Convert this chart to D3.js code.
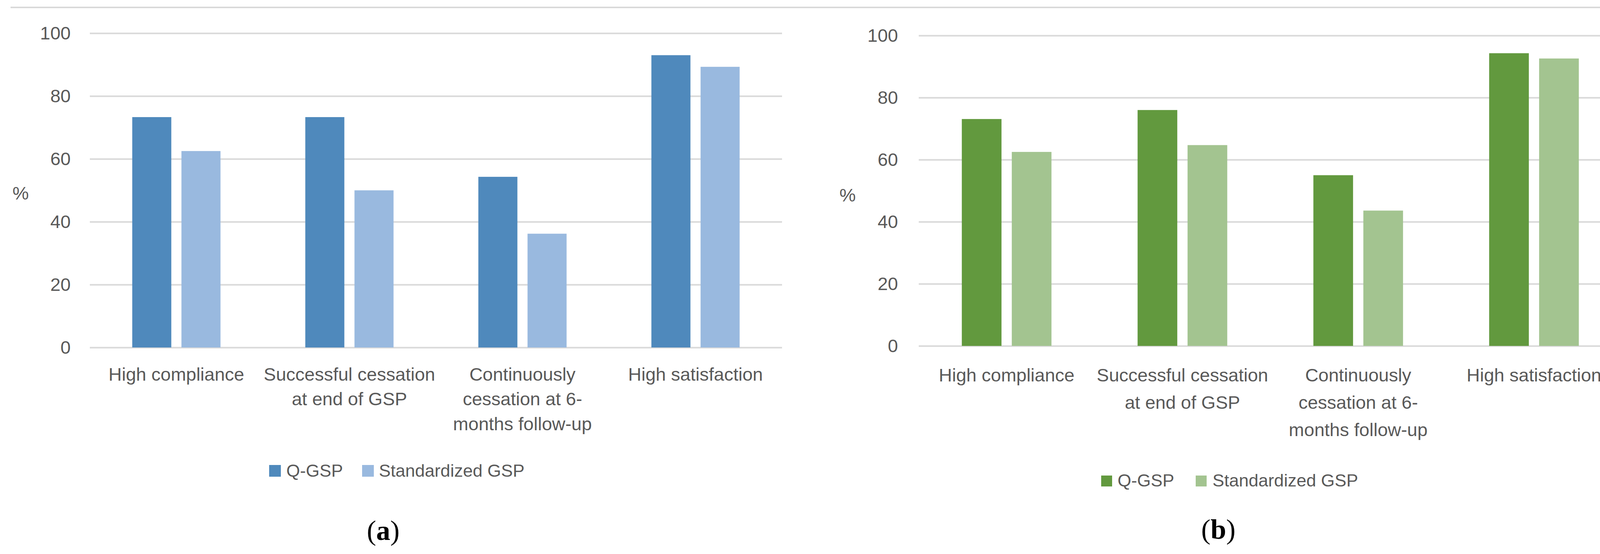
<!DOCTYPE html>
<head>
  <meta charset="utf-8">
  <script src="https://d3js.org/d3.v7.min.js"></script>
  <style>
    body { margin: 0; background: #fff; overflow: hidden; }
    svg { display: block; }
    text { font-family: "Liberation Sans", Arial, sans-serif; fill: #595959; }
    .grid line { stroke: #d9d9d9; stroke-width: 4; }
    .grid .domain { display: none; }
  </style>
</head>
<body>
  <script>
    // data
    var categories = ["High compliance", "Successful cessation", "Continuously cessation", "High satisfaction"];
    var categoryLines = [
      ["High compliance"],
      ["Successful cessation", "at end of GSP"],
      ["Continuously", "cessation at 6-", "months follow-up"],
      ["High satisfaction"]
    ];
    var seriesNames = ["Q-GSP", "Standardized GSP"];
    var qgspA = [73.3, 73.3, 54.3, 93.0];
    var stdA  = [62.5, 50.0, 36.2, 89.3];
    var qgspB = [73.1, 76.0, 55.0, 94.3];
    var stdB  = [62.5, 64.7, 43.6, 92.6];
    var yTicks = [0, 20, 40, 60, 80, 100];
    var panelLetters = ["a", "b"];

    var width = 4184, height = 1419;

    var svg = d3.select("body").append("svg")
      .attr("width", width)
      .attr("height", height);

    svg.append("rect").attr("width", width).attr("height", height).style("fill", "#fff");

    // top border of the chart areas
    svg.append("line")
      .attr("x1", 27).attr("x2", 4165)
      .attr("y1", 19).attr("y2", 19)
      .style("stroke", "#d9d9d9").style("stroke-width", 4);

    var panels = [
      { letter: panelLetters[0], values: [qgspA, stdA], colors: ["#4f89bc", "#99b9df"],
        left: 230, right: 2002, top: 85, bottom: 890, tickPad: 49,
        lineY: [975, 1038, 1102], pctX: 53, pctY: 511,
        legendY: 1221, legend: [[689, 733], [927, 970]], swatch: 30,
        letterX: 981, letterY: 1383 },
      { letter: panelLetters[1], values: [qgspB, stdB], colors: ["#62993e", "#a3c490"],
        left: 2352, right: 4152, top: 91, bottom: 886, tickPad: 53,
        lineY: [977, 1047, 1117], pctX: 2170, pctY: 516,
        legendY: 1246, legend: [[2819, 2861], [3061, 3104]], swatch: 28,
        letterX: 3119, letterY: 1380 }
    ];

    panels.forEach(function(p) {
      var w = p.right - p.left;
      var g = svg.append("g").attr("transform", "translate(" + p.left + ",0)");

      var x0 = d3.scaleBand()
        .domain(categories)
        .range([0, w])
        .paddingInner(0.49)
        .paddingOuter(0.245);

      var x1 = d3.scaleBand()
        .domain(seriesNames)
        .range([0, x0.bandwidth()])
        .paddingInner(0.206);

      var y = d3.scaleLinear()
        .domain([0, 100])
        .range([p.bottom, p.top]);

      g.append("g")
        .attr("class", "grid")
        .call(d3.axisLeft(y)
          .tickValues(yTicks)
          .tickSizeInner(-w)
          .tickSizeOuter(0)
          .tickPadding(p.tickPad))
        .selectAll("text")
        .style("font-size", "47px")
        .style("font-family", "Liberation Sans, Arial, sans-serif")
        .attr("fill", "#595959");

      var groups = g.selectAll(".cat")
        .data(categories)
        .enter()
        .append("g")
        .attr("class", "cat")
        .attr("transform", function(d) { return "translate(" + x0(d) + ",0)"; });

      groups.selectAll("rect")
        .data(function(d, i) {
          return seriesNames.map(function(s, j) { return { series: s, value: p.values[j][i], j: j }; });
        })
        .enter()
        .append("rect")
        .attr("x", function(d) { return x1(d.series); })
        .attr("width", x1.bandwidth())
        .attr("y", function(d) { return y(d.value); })
        .attr("height", function(d) { return y(0) - y(d.value); })
        .style("fill", function(d) { return p.colors[d.j]; });

      // category labels
      var labels = g.selectAll(".catlabel")
        .data(categories)
        .enter()
        .append("text")
        .attr("class", "catlabel")
        .attr("text-anchor", "middle")
        .style("font-size", "47px");

      labels.selectAll("tspan")
        .data(function(d, i) { return categoryLines[i].map(function(t) { return { t: t, x: x0(d) + x0.bandwidth() / 2 }; }); })
        .enter()
        .append("tspan")
        .attr("x", function(d) { return d.x; })
        .attr("y", function(d, k) { return p.lineY[k]; })
        .text(function(d) { return d.t; });

      svg.append("text")
        .attr("x", p.pctX)
        .attr("y", p.pctY)
        .attr("text-anchor", "middle")
        .style("font-size", "47px")
        .text("%");

      // legend
      var leg = svg.selectAll(".leg-" + p.letter)
        .data(seriesNames)
        .enter()
        .append("g")
        .attr("class", "leg-" + p.letter);

      leg.append("rect")
        .attr("x", function(d, i) { return p.legend[i][0]; })
        .attr("y", p.legendY - p.swatch)
        .attr("width", p.swatch)
        .attr("height", p.swatch)
        .style("fill", function(d, i) { return p.colors[i]; });

      leg.append("text")
        .attr("x", function(d, i) { return p.legend[i][1]; })
        .attr("y", p.legendY)
        .style("font-size", "45px")
        .text(function(d) { return d; });

      var lt = svg.append("text")
        .attr("x", p.letterX)
        .attr("y", p.letterY)
        .attr("text-anchor", "middle")
        .style("font-family", "Liberation Serif, Times New Roman, serif")
        .style("font-size", "72px")
        .style("fill", "#000");
      lt.append("tspan").style("fill", "#000").text("(");
      lt.append("tspan").style("font-weight", "bold").style("fill", "#000").text(p.letter);
      lt.append("tspan").style("fill", "#000").text(")");
    });
  </script>
</body>
